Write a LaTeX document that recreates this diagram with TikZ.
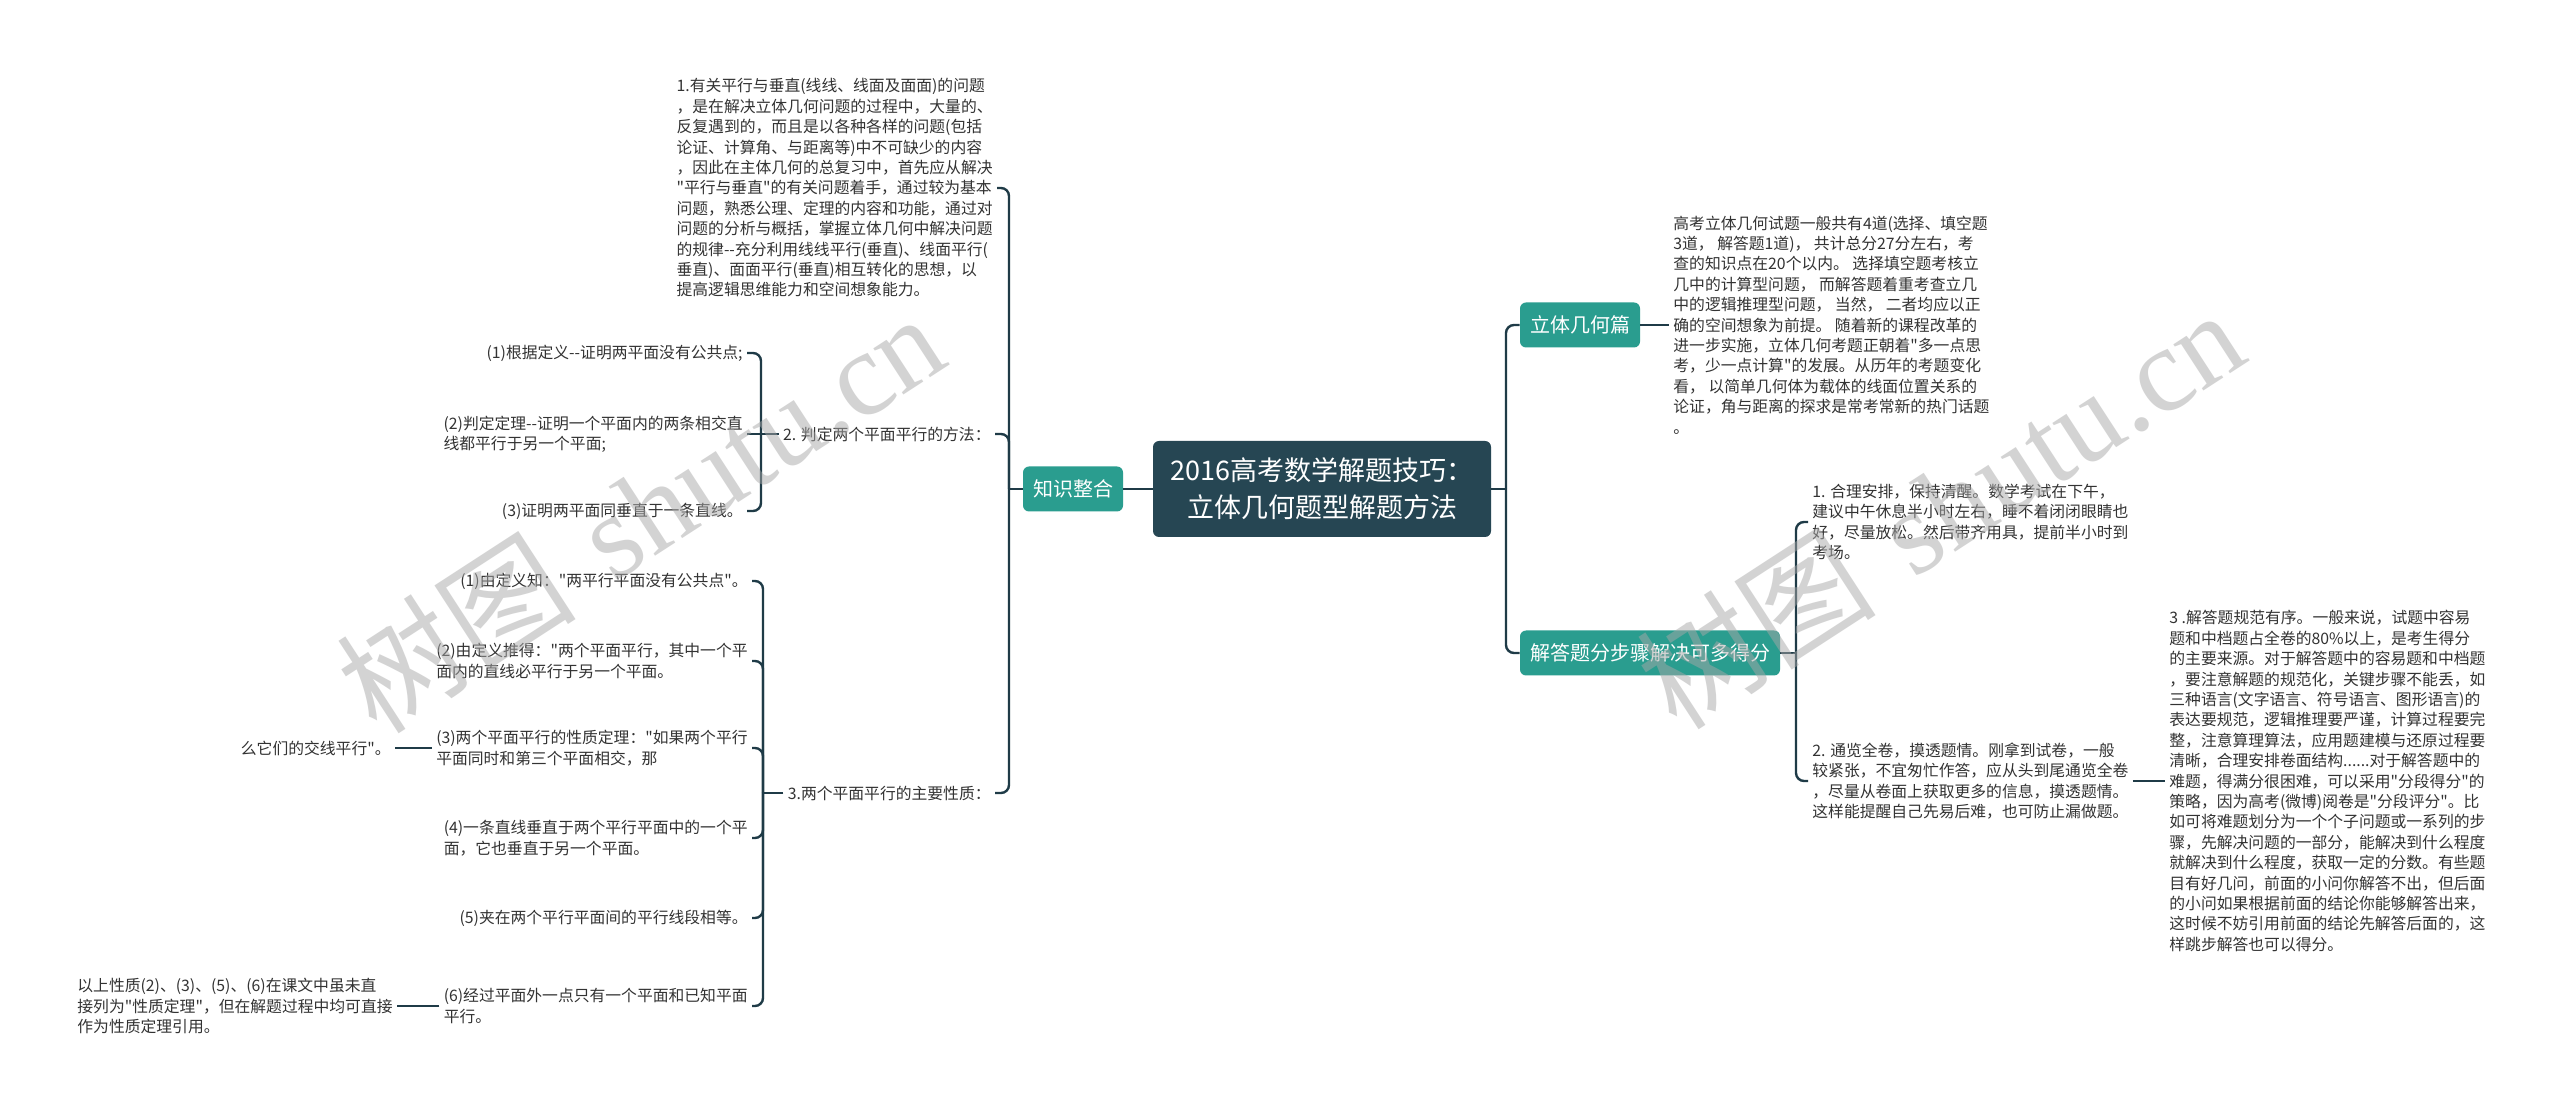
\documentclass[tikz,border=0pt]{standalone}
\usepackage{fontspec}
\setmainfont{Noto Sans CJK SC}[Ligatures=TeXOff]
\newfontfamily\wmlatin{Liberation Serif}
\usepackage{tikz}
\usetikzlibrary{positioning}

\definecolor{rootbg}{HTML}{264653}
\definecolor{tealbox}{HTML}{2A9D8F}
\definecolor{linec}{HTML}{1F3B47}
\definecolor{txtc}{HTML}{333333}
\definecolor{wmgray}{HTML}{A8A8A8}

\begin{document}
\begin{tikzpicture}[x=0.5pt,y=-0.5pt,
  link/.style={draw=linec,line width=1.2pt,rounded corners=4pt},
  rootbox/.style={fill=rootbg,text=white,rounded corners=3pt,minimum width=169pt,minimum height=48pt,align=center,font=\fontsize{13.5}{18.5}\selectfont},
  topic/.style={fill=tealbox,text=white,rounded corners=3pt,minimum height=22.5pt,inner xsep=5pt,font=\fontsize{10}{12}\selectfont},
  txt/.style={text=txtc,align=left,inner sep=2pt,font=\fontsize{7.9}{10.2}\selectfont},
  wm/.style={text=wmgray,text opacity=0.5,rotate=33,font=\fontsize{60}{70}\selectfont}]
\fill[white] (0,0) rectangle (2560,1111);
\useasboundingbox (0,0) rectangle (2560,1111);

% centre and main topics
\node[rootbox] (root) at (1322,489) {2016高考数学解题技巧：\\立体几何题型解题方法};
\node[topic] (zhishi) at (1073,489) {知识整合};
\node[topic] (liti) at (1580,325) {立体几何篇};
\node[topic] (jieda) at (1650,653) {解答题分步骤解决可多得分};

% left branch
\coordinate (k_trunk) at (1009,489);
\node[txt,anchor=east] (k_p1) at (997,188) {1.有关平行与垂直(线线、线面及面面)的问题\\，是在解决立体几何问题的过程中，大量的、\\反复遇到的，而且是以各种各样的问题(包括\\论证、计算角、与距离等)中不可缺少的内容\\，因此在主体几何的总复习中，首先应从解决\\"平行与垂直"的有关问题着手，通过较为基本\\问题，熟悉公理、定理的内容和功能，通过对\\问题的分析与概括，掌握立体几何中解决问题\\的规律--充分利用线线平行(垂直)、线面平行(\\垂直)、面面平行(垂直)相互转化的思想，以\\提高逻辑思维能力和空间想象能力。};
\node[txt,anchor=east] (k_p2) at (995,434) {2. 判定两个平面平行的方法：};
\node[txt,anchor=east] (k_p3) at (995,793) {3.两个平面平行的主要性质：};

\coordinate (k2_br) at (761,434);
\node[txt,anchor=east] (k2_a) at (747,353) {(1)根据定义--证明两平面没有公共点;};
\node[txt,anchor=east] (k2_b) at (747,434) {(2)判定定理--证明一个平面内的两条相交直\\线都平行于另一个平面;};
\node[txt,anchor=east] (k2_c) at (747,511) {(3)证明两平面同垂直于一条直线。};

\coordinate (k3_br) at (763,793);
\node[txt,anchor=east] (k3_a) at (752,581) {(1)由定义知："两平行平面没有公共点"。};
\node[txt,anchor=east] (k3_b) at (752,661) {(2)由定义推得："两个平面平行，其中一个平\\面内的直线必平行于另一个平面。};
\node[txt,anchor=east] (k3_c) at (752,748) {(3)两个平面平行的性质定理："如果两个平行\\平面同时和第三个平面相交，那};
\node[txt,anchor=east] (k3_d) at (752,838) {(4)一条直线垂直于两个平行平面中的一个平\\面，它也垂直于另一个平面。};
\node[txt,anchor=east] (k3_e) at (752,918) {(5)夹在两个平行平面间的平行线段相等。};
\node[txt,anchor=east] (k3_f) at (752,1006) {(6)经过平面外一点只有一个平面和已知平面\\平行。};
\node[txt,anchor=east] (k3_c_x) at (395,748) {么它们的交线平行"。};
\node[txt,anchor=east] (k3_f_x) at (397,1006) {以上性质(2)、(3)、(5)、(6)在课文中虽未直\\接列为"性质定理"，但在解题过程中均可直接\\作为性质定理引用。};

% right branch
\coordinate (r_trunk) at (1506,489);
\node[txt,anchor=west] (l_p1) at (1669,325) {高考立体几何试题一般共有4道(选择、填空题\\3道， 解答题1道)， 共计总分27分左右，考\\查的知识点在20个以内。 选择填空题考核立\\几中的计算型问题， 而解答题着重考查立几\\中的逻辑推理型问题， 当然， 二者均应以正\\确的空间想象为前提。 随着新的课程改革的\\进一步实施，立体几何考题正朝着"多一点思\\考，少一点计算"的发展。从历年的考题变化\\看， 以简单几何体为载体的线面位置关系的\\论证，角与距离的探求是常考常新的热门话题\\。};

\coordinate (j_br) at (1796,653);
\node[txt,anchor=west] (j_p1) at (1808,522) {1. 合理安排，保持清醒。数学考试在下午，\\建议中午休息半小时左右，睡不着闭闭眼睛也\\好，尽量放松。然后带齐用具，提前半小时到\\考场。};
\node[txt,anchor=west] (j_p2) at (1808,781) {2. 通览全卷，摸透题情。刚拿到试卷，一般\\较紧张，不宜匆忙作答，应从头到尾通览全卷\\，尽量从卷面上获取更多的信息，摸透题情。\\这样能提醒自己先易后难，也可防止漏做题。};
\node[txt,anchor=west] (j_p3) at (2165,781) {3 .解答题规范有序。一般来说，试题中容易\\题和中档题占全卷的80\%以上，是考生得分\\的主要来源。对于解答题中的容易题和中档题\\，要注意解题的规范化，关键步骤不能丢，如\\三种语言(文字语言、符号语言、图形语言)的\\表达要规范，逻辑推理要严谨，计算过程要完\\整，注意算理算法，应用题建模与还原过程要\\清晰，合理安排卷面结构......对于解答题中的\\难题，得满分很困难，可以采用"分段得分"的\\策略，因为高考(微博)阅卷是"分段评分"。比\\如可将难题划分为一个个子问题或一系列的步\\骤，先解决问题的一部分，能解决到什么程度\\就解决到什么程度，获取一定的分数。有些题\\目有好几问，前面的小问你解答不出，但后面\\的小问如果根据前面的结论你能够解答出来，\\这时候不妨引用前面的结论先解答后面的，这\\样跳步解答也可以得分。};

% connectors
\draw[link] (root) -- (zhishi);
\draw[link] (zhishi) -- (k_trunk);
\foreach \n in {k_p1,k_p2,k_p3} \draw[link] (k_trunk) |- (\n.east);
\draw[link] (k_p2) -- (k2_br);
\draw[link] (k2_br) |- (k2_a.east);
\draw[link] (k2_br) -- (k2_b.east);
\draw[link] (k2_br) |- (k2_c.east);
\draw[link] (k_p3) -- (k3_br);
\foreach \n in {k3_a,k3_b,k3_c,k3_d,k3_e,k3_f} \draw[link] (k3_br) |- (\n.east);
\draw[link] (k3_c.west) -- (k3_c_x.east);
\draw[link] (k3_f.west) -- (k3_f_x.east);

\draw[link] (root) -- (r_trunk);
\foreach \n in {liti,jieda} \draw[link] (r_trunk) |- (\n.west);
\draw[link] (liti) -- (l_p1);
\draw[link] (jieda) -- (j_br);
\foreach \n in {j_p1,j_p2} \draw[link] (j_br) |- (\n.west);
\draw[link] (j_p2) -- (j_p3);

% watermark
\node[wm] (wm_l) at (640,512) {树图\hspace{0.35em}{\wmlatin shutu.cn}};
\node[wm] (wm_r) at (1940,508) {树图\hspace{0.35em}{\wmlatin shutu.cn}};
\end{tikzpicture}
\end{document}
